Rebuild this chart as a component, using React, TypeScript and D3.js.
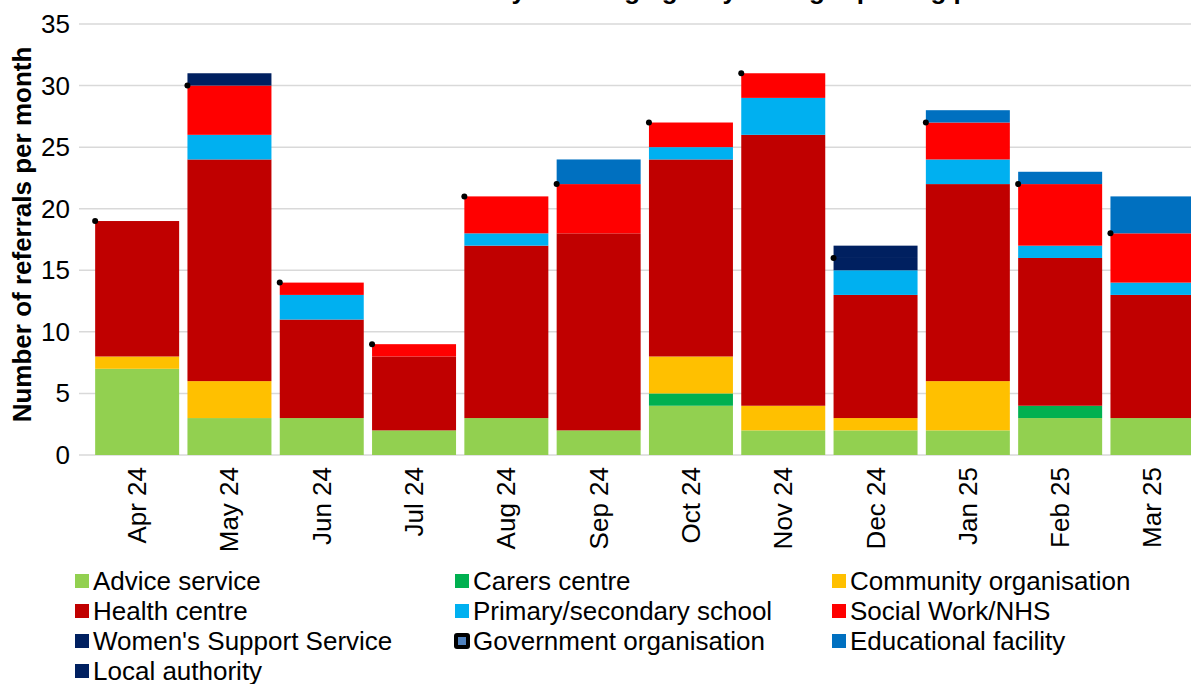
import React from "react";
import * as d3 from "d3";

const months = ["Apr 24", "May 24", "Jun 24", "Jul 24", "Aug 24", "Sep 24", "Oct 24", "Nov 24", "Dec 24", "Jan 25", "Feb 25", "Mar 25"];

const adviceService = [7, 3, 3, 2, 3, 2, 4, 2, 2, 2, 3, 3];
const carersCentre = [0, 0, 0, 0, 0, 0, 1, 0, 0, 0, 1, 0];
const communityOrganisation = [1, 3, 0, 0, 0, 0, 3, 2, 1, 4, 0, 0];
const healthCentre = [11, 18, 8, 6, 14, 16, 16, 22, 10, 16, 12, 10];
const primarySecondarySchool = [0, 2, 2, 0, 1, 0, 1, 3, 2, 2, 1, 1];
const socialWorkNHS = [0, 4, 1, 1, 3, 4, 2, 2, 0, 3, 5, 4];
const womensSupportService = [0, 0, 0, 0, 0, 0, 0, 0, 1, 0, 0, 0];
const governmentOrganisation = [0, 0, 0, 0, 0, 0, 0, 0, 0, 0, 0, 0];
const educationalFacility = [0, 0, 0, 0, 0, 2, 0, 0, 0, 1, 1, 3];
const localAuthority = [0, 1, 0, 0, 0, 0, 0, 0, 1, 0, 0, 0];

const yTicks = [0, 5, 10, 15, 20, 25, 30, 35];

const seriesNames = [
  "Advice service",
  "Carers centre",
  "Community organisation",
  "Health centre",
  "Primary/secondary school",
  "Social Work/NHS",
  "Women's Support Service",
  "Government organisation",
  "Educational facility",
  "Local authority",
];
const seriesValues = [
  adviceService,
  carersCentre,
  communityOrganisation,
  healthCentre,
  primarySecondarySchool,
  socialWorkNHS,
  womensSupportService,
  governmentOrganisation,
  educationalFacility,
  localAuthority,
];
const seriesColors = [
  "#92D050",
  "#00B050",
  "#FFC000",
  "#C00000",
  "#00B0F0",
  "#FF0000",
  "#002060",
  "#4F81BD",
  "#0070C0",
  "#002060",
];

const W = 1191;
const H = 684;
const FONT = "'Liberation Sans', Arial, Helvetica, sans-serif";
const FS = 26;

export default function App() {
  const rows = months.map((m, i) => {
    const r: any = { month: m };
    seriesNames.forEach((s, j) => (r[s] = seriesValues[j][i]));
    return r;
  });
  const stack = d3.stack<any>().keys(seriesNames)(rows);

  const x = d3
    .scaleBand<string>()
    .domain(months)
    .range([91, 1198.6])
    .paddingInner(0.09)
    .paddingOuter(0.045);
  const y = d3.scaleLinear().domain([0, 35]).range([455, 24]);

  const gridLeft = 79;
  const gridRight = W;

  const govIndex = seriesNames.indexOf("Government organisation");

  const legendCols = [75, 455, 832];
  const legendRows = [581, 611, 641, 671];

  return (
    <svg
      width={W}
      height={H}
      style={{ position: "absolute", left: 0, top: 0, background: "#fff" }}
      fontFamily={FONT}
    >
      <text x={640} y={-1} textAnchor="middle" fontSize={FS} fontWeight="bold" fill="#000">
        Number of referrals by referring agency during reporting period
      </text>

      {yTicks.map((t) => (
        <g key={t}>
          <line x1={gridLeft} x2={gridRight} y1={y(t)} y2={y(t)} stroke="#d9d9d9" strokeWidth={1.5} />
          <text x={70} y={y(t)} textAnchor="end" dominantBaseline="central" fontSize={FS} fill="#000">
            {t}
          </text>
        </g>
      ))}

      {stack.map((layer, j) =>
        layer
          .filter((d) => d[1] - d[0] > 0 && j !== govIndex)
          .map((d) => (
            <rect
              key={seriesNames[j] + d.data.month}
              x={x(d.data.month)}
              width={x.bandwidth()}
              y={y(d[1])}
              height={y(d[0]) - y(d[1])}
              fill={seriesColors[j]}
            />
          ))
      )}

      {stack[govIndex].map((d) => (
        <circle key={"dot" + d.data.month} cx={x(d.data.month)} cy={y(d[1])} r={3} fill="#000" />
      ))}

      {months.map((m) => (
        <text
          key={m}
          transform={`translate(${x(m)! + x.bandwidth() / 2},467) rotate(-90)`}
          textAnchor="end"
          dominantBaseline="central"
          fontSize={FS}
          fill="#000"
        >
          {m}
        </text>
      ))}

      <text
        transform={`translate(22,${(24 + 455) / 2 - 5}) rotate(-90)`}
        textAnchor="middle"
        dominantBaseline="central"
        fontSize={FS}
        fontWeight="bold"
        fill="#000"
      >
        Number of referrals per month
      </text>

      {seriesNames.map((s, j) => {
        const col = j % 3;
        const row = Math.floor(j / 3);
        const lx = legendCols[col];
        const ly = legendRows[row];
        return (
          <g key={s}>
            {j === govIndex ? (
              <g>
                <rect x={lx - 1} y={ly - 8} width={16} height={16} rx={3} fill="#000" />
                <rect x={lx + 3} y={ly - 4} width={8} height={8} fill={seriesColors[j]} />
              </g>
            ) : (
              <rect x={lx} y={ly - 7} width={14} height={14} fill={seriesColors[j]} />
            )}
            <text x={lx + 18} y={ly} dominantBaseline="central" fontSize={FS} fill="#000">
              {s}
            </text>
          </g>
        );
      })}
    </svg>
  );
}
